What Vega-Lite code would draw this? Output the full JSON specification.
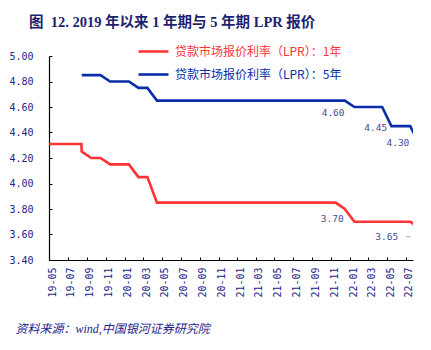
{
  "$schema": "https://vega.github.io/schema/vega-lite/v6.json",
  "width": 364,
  "height": 204,
  "autosize": {"type": "none"},
  "padding": {"left": 49, "top": 56, "right": 18, "bottom": 90},
  "background": "white",
  "title": {
    "text": "图\u00a0\u00a012. 2019 年以来 1 年期与 5 年期 LPR 报价",
    "anchor": "start",
    "frame": "group",
    "dx": -20,
    "offset": 5,
    "font": "Liberation Serif, Noto Sans CJK SC",
    "fontSize": 14.5,
    "fontWeight": "bold",
    "color": "#1f1f70"
  },
  "config": {
    "view": {"stroke": null},
    "axis": {"grid": false}
  },
  "encoding": {
    "x": {
      "field": "date",
      "type": "temporal",
      "scale": {"domain": [{"year": 2019, "month": 5, "date": 1}, {"year": 2022, "month": 7, "date": 24}]},
      "axis": {
        "format": "%y-%m",
        "tickCount": {"interval": "month", "step": 2},
        "labelAngle": -90,
        "labelOverlap": false,
        "labelFlush": false,
        "labelBound": false,
        "labelOffset": 3,
        "labelFont": "DejaVu Sans Mono",
        "labelFontSize": 10,
        "labelColor": "#23238a",
        "labelPadding": 10,
        "tickSize": -3,
        "tickColor": "#000000",
        "domainColor": "#000000",
        "domainWidth": 1.2,
        "title": "资料来源：wind,中国银河证券研究院",
        "titleFont": "Liberation Serif, Noto Sans CJK SC",
        "titleFontSize": 12,
        "titleFontStyle": "italic",
        "titleFontWeight": "normal",
        "titleColor": "#23238a",
        "titleAnchor": "start",
        "titleAlign": "left",
        "titleBaseline": "middle",
        "titleX": -34,
        "titleY": 68
      }
    },
    "y": {
      "field": "rate",
      "type": "quantitative",
      "scale": {"domain": [3.4, 5.0], "nice": false, "zero": false},
      "axis": {
        "values": [3.4, 3.6, 3.8, 4.0, 4.2, 4.4, 4.6, 4.8, 5.0],
        "format": ".2f",
        "labelOverlap": false,
        "labelFlush": false,
        "labelFont": "DejaVu Sans Mono",
        "labelFontSize": 10,
        "labelColor": "#23238a",
        "labelPadding": 19,
        "tickSize": -3,
        "tickColor": "#000000",
        "domainColor": "#000000",
        "domainWidth": 1.2,
        "title": null
      }
    }
  },
  "layer": [
    {
      "data": {
        "values": [
          {"date": "2019-05-01", "rate": 4.31, "series": "贷款市场报价利率（LPR）：1年"},
          {"date": "2019-05-15", "rate": 4.31, "series": "贷款市场报价利率（LPR）：1年"},
          {"date": "2019-06-15", "rate": 4.31, "series": "贷款市场报价利率（LPR）：1年"},
          {"date": "2019-07-15", "rate": 4.31, "series": "贷款市场报价利率（LPR）：1年"},
          {"date": "2019-08-14", "rate": 4.31, "series": "贷款市场报价利率（LPR）：1年"},
          {"date": "2019-08-15", "rate": 4.25, "series": "贷款市场报价利率（LPR）：1年"},
          {"date": "2019-09-15", "rate": 4.20, "series": "贷款市场报价利率（LPR）：1年"},
          {"date": "2019-10-15", "rate": 4.20, "series": "贷款市场报价利率（LPR）：1年"},
          {"date": "2019-11-15", "rate": 4.15, "series": "贷款市场报价利率（LPR）：1年"},
          {"date": "2019-12-15", "rate": 4.15, "series": "贷款市场报价利率（LPR）：1年"},
          {"date": "2020-01-15", "rate": 4.15, "series": "贷款市场报价利率（LPR）：1年"},
          {"date": "2020-02-15", "rate": 4.05, "series": "贷款市场报价利率（LPR）：1年"},
          {"date": "2020-03-15", "rate": 4.05, "series": "贷款市场报价利率（LPR）：1年"},
          {"date": "2020-04-15", "rate": 3.85, "series": "贷款市场报价利率（LPR）：1年"},
          {"date": "2020-05-15", "rate": 3.85, "series": "贷款市场报价利率（LPR）：1年"},
          {"date": "2020-06-15", "rate": 3.85, "series": "贷款市场报价利率（LPR）：1年"},
          {"date": "2020-07-15", "rate": 3.85, "series": "贷款市场报价利率（LPR）：1年"},
          {"date": "2020-08-15", "rate": 3.85, "series": "贷款市场报价利率（LPR）：1年"},
          {"date": "2020-09-15", "rate": 3.85, "series": "贷款市场报价利率（LPR）：1年"},
          {"date": "2020-10-15", "rate": 3.85, "series": "贷款市场报价利率（LPR）：1年"},
          {"date": "2020-11-15", "rate": 3.85, "series": "贷款市场报价利率（LPR）：1年"},
          {"date": "2020-12-15", "rate": 3.85, "series": "贷款市场报价利率（LPR）：1年"},
          {"date": "2021-01-15", "rate": 3.85, "series": "贷款市场报价利率（LPR）：1年"},
          {"date": "2021-02-15", "rate": 3.85, "series": "贷款市场报价利率（LPR）：1年"},
          {"date": "2021-03-15", "rate": 3.85, "series": "贷款市场报价利率（LPR）：1年"},
          {"date": "2021-04-15", "rate": 3.85, "series": "贷款市场报价利率（LPR）：1年"},
          {"date": "2021-05-15", "rate": 3.85, "series": "贷款市场报价利率（LPR）：1年"},
          {"date": "2021-06-15", "rate": 3.85, "series": "贷款市场报价利率（LPR）：1年"},
          {"date": "2021-07-15", "rate": 3.85, "series": "贷款市场报价利率（LPR）：1年"},
          {"date": "2021-08-15", "rate": 3.85, "series": "贷款市场报价利率（LPR）：1年"},
          {"date": "2021-09-15", "rate": 3.85, "series": "贷款市场报价利率（LPR）：1年"},
          {"date": "2021-10-15", "rate": 3.85, "series": "贷款市场报价利率（LPR）：1年"},
          {"date": "2021-11-15", "rate": 3.85, "series": "贷款市场报价利率（LPR）：1年"},
          {"date": "2021-12-15", "rate": 3.80, "series": "贷款市场报价利率（LPR）：1年"},
          {"date": "2022-01-15", "rate": 3.70, "series": "贷款市场报价利率（LPR）：1年"},
          {"date": "2022-02-15", "rate": 3.70, "series": "贷款市场报价利率（LPR）：1年"},
          {"date": "2022-03-15", "rate": 3.70, "series": "贷款市场报价利率（LPR）：1年"},
          {"date": "2022-04-15", "rate": 3.70, "series": "贷款市场报价利率（LPR）：1年"},
          {"date": "2022-05-15", "rate": 3.70, "series": "贷款市场报价利率（LPR）：1年"},
          {"date": "2022-06-15", "rate": 3.70, "series": "贷款市场报价利率（LPR）：1年"},
          {"date": "2022-07-15", "rate": 3.70, "series": "贷款市场报价利率（LPR）：1年"},
          {"date": "2022-08-15", "rate": 3.65, "series": "贷款市场报价利率（LPR）：1年"},
          {"date": "2019-08-15", "rate": 4.85, "series": "贷款市场报价利率（LPR）：5年"},
          {"date": "2019-09-15", "rate": 4.85, "series": "贷款市场报价利率（LPR）：5年"},
          {"date": "2019-10-15", "rate": 4.85, "series": "贷款市场报价利率（LPR）：5年"},
          {"date": "2019-11-15", "rate": 4.80, "series": "贷款市场报价利率（LPR）：5年"},
          {"date": "2019-12-15", "rate": 4.80, "series": "贷款市场报价利率（LPR）：5年"},
          {"date": "2020-01-15", "rate": 4.80, "series": "贷款市场报价利率（LPR）：5年"},
          {"date": "2020-02-15", "rate": 4.75, "series": "贷款市场报价利率（LPR）：5年"},
          {"date": "2020-03-15", "rate": 4.75, "series": "贷款市场报价利率（LPR）：5年"},
          {"date": "2020-04-15", "rate": 4.65, "series": "贷款市场报价利率（LPR）：5年"},
          {"date": "2020-05-15", "rate": 4.65, "series": "贷款市场报价利率（LPR）：5年"},
          {"date": "2020-06-15", "rate": 4.65, "series": "贷款市场报价利率（LPR）：5年"},
          {"date": "2020-07-15", "rate": 4.65, "series": "贷款市场报价利率（LPR）：5年"},
          {"date": "2020-08-15", "rate": 4.65, "series": "贷款市场报价利率（LPR）：5年"},
          {"date": "2020-09-15", "rate": 4.65, "series": "贷款市场报价利率（LPR）：5年"},
          {"date": "2020-10-15", "rate": 4.65, "series": "贷款市场报价利率（LPR）：5年"},
          {"date": "2020-11-15", "rate": 4.65, "series": "贷款市场报价利率（LPR）：5年"},
          {"date": "2020-12-15", "rate": 4.65, "series": "贷款市场报价利率（LPR）：5年"},
          {"date": "2021-01-15", "rate": 4.65, "series": "贷款市场报价利率（LPR）：5年"},
          {"date": "2021-02-15", "rate": 4.65, "series": "贷款市场报价利率（LPR）：5年"},
          {"date": "2021-03-15", "rate": 4.65, "series": "贷款市场报价利率（LPR）：5年"},
          {"date": "2021-04-15", "rate": 4.65, "series": "贷款市场报价利率（LPR）：5年"},
          {"date": "2021-05-15", "rate": 4.65, "series": "贷款市场报价利率（LPR）：5年"},
          {"date": "2021-06-15", "rate": 4.65, "series": "贷款市场报价利率（LPR）：5年"},
          {"date": "2021-07-15", "rate": 4.65, "series": "贷款市场报价利率（LPR）：5年"},
          {"date": "2021-08-15", "rate": 4.65, "series": "贷款市场报价利率（LPR）：5年"},
          {"date": "2021-09-15", "rate": 4.65, "series": "贷款市场报价利率（LPR）：5年"},
          {"date": "2021-10-15", "rate": 4.65, "series": "贷款市场报价利率（LPR）：5年"},
          {"date": "2021-11-15", "rate": 4.65, "series": "贷款市场报价利率（LPR）：5年"},
          {"date": "2021-12-15", "rate": 4.65, "series": "贷款市场报价利率（LPR）：5年"},
          {"date": "2022-01-15", "rate": 4.60, "series": "贷款市场报价利率（LPR）：5年"},
          {"date": "2022-02-15", "rate": 4.60, "series": "贷款市场报价利率（LPR）：5年"},
          {"date": "2022-03-15", "rate": 4.60, "series": "贷款市场报价利率（LPR）：5年"},
          {"date": "2022-04-15", "rate": 4.60, "series": "贷款市场报价利率（LPR）：5年"},
          {"date": "2022-05-15", "rate": 4.45, "series": "贷款市场报价利率（LPR）：5年"},
          {"date": "2022-06-15", "rate": 4.45, "series": "贷款市场报价利率（LPR）：5年"},
          {"date": "2022-07-15", "rate": 4.45, "series": "贷款市场报价利率（LPR）：5年"},
          {"date": "2022-08-15", "rate": 4.30, "series": "贷款市场报价利率（LPR）：5年"}
        ]
      },
      "mark": {"type": "line", "clip": true, "strokeWidth": 2.6, "interpolate": "linear"},
      "encoding": {
        "color": {
          "field": "series",
          "type": "nominal",
          "scale": {
            "domain": ["贷款市场报价利率（LPR）：1年", "贷款市场报价利率（LPR）：5年"],
            "range": ["#ff3333", "#0a2ea8"]
          },
          "legend": {
            "title": null,
            "orient": "none",
            "legendX": 88,
            "legendY": -21,
            "padding": 0,
            "symbolType": "stroke",
            "symbolSize": 900,
            "symbolStrokeWidth": 2.6,
            "labelOffset": 5,
            "labelFont": "Noto Sans CJK SC",
            "labelFontSize": 12,
            "labelLimit": 300,
            "rowPadding": -9,
            "encode": {
              "labels": {"update": {"fill": {"scale": "color", "field": "value"}}}
            }
          }
        }
      }
    },
    {
      "data": {
        "values": [
          {"date": "2021-11-07", "rate": 4.551, "label": "4.60"},
          {"date": "2022-03-25", "rate": 4.433, "label": "4.45"},
          {"date": "2022-06-05", "rate": 4.315, "label": "4.30"},
          {"date": "2021-11-04", "rate": 3.722, "label": "3.70"},
          {"date": "2022-04-30", "rate": 3.583, "label": "3.65"}
        ]
      },
      "mark": {"type": "text", "font": "DejaVu Sans Mono", "fontSize": 9.5, "color": "#4a4a95", "align": "center", "baseline": "middle"},
      "encoding": {
        "text": {"field": "label"}
      }
    },
    {
      "data": {
        "values": [
          {"date": "2022-07-01", "end": "2022-07-16", "rate": 3.583}
        ]
      },
      "mark": {"type": "rule", "color": "#aaaaaa", "strokeWidth": 1},
      "encoding": {
        "x2": {"field": "end"}
      }
    }
  ]
}
